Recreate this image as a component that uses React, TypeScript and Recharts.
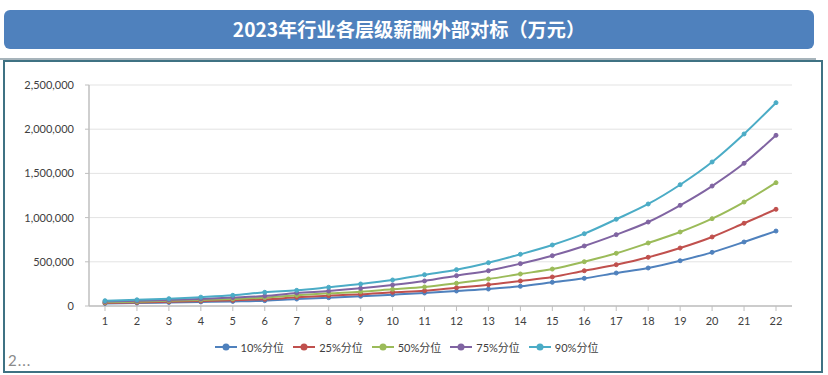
import React from "react";
import { LineChart, Line, XAxis, YAxis, CartesianGrid, Legend } from "recharts";

// 职级 1..22
const levels = Array.from({ length: 22 }, (_, i) => String(i + 1));

// values (元)
const p10 = [29000, 34000, 40000, 46000, 52000, 60000, 79000, 94000, 110000, 128000, 147000, 170000, 192000, 223000, 268000, 313000, 373000, 430000, 512000, 607000, 724000, 848000];
const p25 = [35000, 41000, 48000, 56000, 65000, 76000, 98000, 117000, 132000, 155000, 173000, 207000, 241000, 283000, 328000, 399000, 467000, 551000, 656000, 781000, 936000, 1094000];
const p50 = [42000, 49000, 58000, 68000, 80000, 94000, 121000, 143000, 162000, 189000, 215000, 257000, 305000, 362000, 418000, 501000, 596000, 713000, 837000, 988000, 1176000, 1395000];
const p75 = [50000, 58000, 68000, 80000, 95000, 113000, 147000, 170000, 200000, 238000, 283000, 343000, 399000, 479000, 569000, 679000, 807000, 950000, 1139000, 1357000, 1614000, 1931000];
const p90 = [60000, 70000, 83000, 100000, 121000, 155000, 177000, 212000, 249000, 294000, 354000, 411000, 490000, 585000, 690000, 818000, 981000, 1154000, 1372000, 1629000, 1946000, 2300000];

const yTicks = [0, 500000, 1000000, 1500000, 2000000, 2500000];

const series = [
    { key: "p10", name: "10%分位", color: "#4F81BD", values: p10 },
    { key: "p25", name: "25%分位", color: "#C0504D", values: p25 },
    { key: "p50", name: "50%分位", color: "#9BBB59", values: p50 },
    { key: "p75", name: "75%分位", color: "#8064A2", values: p75 },
    { key: "p90", name: "90%分位", color: "#4BACC6", values: p90 },
];

const data = levels.map((level, i) => {
    const row: Record<string, string | number> = { level };
    series.forEach((s) => (row[s.key] = s.values[i]));
    return row;
});

const font = "Lato, 'Noto Sans CJK SC', sans-serif";

function LegendContent() {
    return (
        <div style={{ display: "flex", justifyContent: "center", height: 16, alignItems: "center", paddingLeft: 30 }}>
            {series.map((s) => (
                <div key={s.key} style={{ display: "flex", alignItems: "center", marginRight: 9 }}>
                    <svg width={22} height={10} style={{ marginRight: 4 }}>
                        <line x1={0} y1={5} x2={22} y2={5} stroke={s.color} strokeWidth={2} />
                        <circle cx={11} cy={5} r={3.5} fill={s.color} />
                    </svg>
                    <span style={{ fontSize: 11, color: "#404040", fontFamily: font }}>{s.name}</span>
                </div>
            ))}
        </div>
    );
}

export default function App() {
    return (
        <div style={{ position: "absolute", left: 0, top: 0, width: 828, height: 375, background: "#fff", overflow: "hidden" }}>
            <div
                style={{
                    position: "absolute",
                    left: 4,
                    top: 10,
                    width: 810,
                    height: 39,
                    background: "#4F81BD",
                    borderRadius: 6,
                    color: "#fff",
                    fontFamily: "'Noto Sans CJK SC', sans-serif",
                    fontWeight: 700,
                    fontSize: 19.2,
                    lineHeight: "39px",
                    textAlign: "center",
                }}
            >
                2023年行业各层级薪酬外部对标（万元）
            </div>
            <div style={{ position: "absolute", left: 0, top: 58, width: 816, height: 2, background: "#a7b4bb" }} />
            <div
                style={{
                    position: "absolute",
                    left: 3,
                    top: 60,
                    width: 816,
                    height: 309,
                    border: "2px solid #3f7283",
                }}
            />
            <div style={{ position: "absolute", left: 8, top: 351, fontSize: 15, color: "#8a8a8a", fontFamily: font, letterSpacing: 1 }}>
                2...
            </div>
            <div style={{ position: "absolute", left: 0, top: 0 }}>
                <LineChart width={828} height={375} data={data} margin={{ top: 85, right: 36, bottom: 20, left: 0 }}>
                    <CartesianGrid vertical={false} stroke="#e3e3e3" strokeWidth={1} />
                    <XAxis
                        dataKey="level"
                        height={33}
                        interval={0}
                        padding={{ left: 16, right: 16 }}
                        tickSize={5}
                        tickMargin={6}
                        axisLine={{ stroke: "#bfbfbf", strokeWidth: 1.5 }}
                        tickLine={{ stroke: "#bfbfbf" }}
                        tick={{ fill: "#404040", fontSize: 11, fontFamily: font }}
                    />
                    <YAxis
                        width={89}
                        domain={[0, 2500000]}
                        ticks={yTicks}
                        tickSize={4}
                        tickMargin={11}
                        axisLine={{ stroke: "#bfbfbf", strokeWidth: 1.5 }}
                        tickLine={{ stroke: "#bfbfbf" }}
                        tick={{ fill: "#404040", fontSize: 11, fontFamily: font }}
                        tickFormatter={(v: number) => v.toLocaleString("en-US")}
                    />
                    <YAxis
                        yAxisId="right"
                        orientation="right"
                        width={0}
                        tick={false}
                        tickLine={false}
                        axisLine={{ stroke: "#d9d9d9" }}
                    />
                    <Legend verticalAlign="bottom" content={() => <LegendContent />} />
                    {series.map((s) => (
                        <Line
                            key={s.key}
                            type="monotone"
                            dataKey={s.key}
                            name={s.name}
                            stroke={s.color}
                            strokeWidth={2}
                            dot={{ r: 2, fill: s.color, stroke: s.color, strokeWidth: 1 }}
                            isAnimationActive={false}
                        />
                    ))}
                </LineChart>
            </div>
        </div>
    );
}
